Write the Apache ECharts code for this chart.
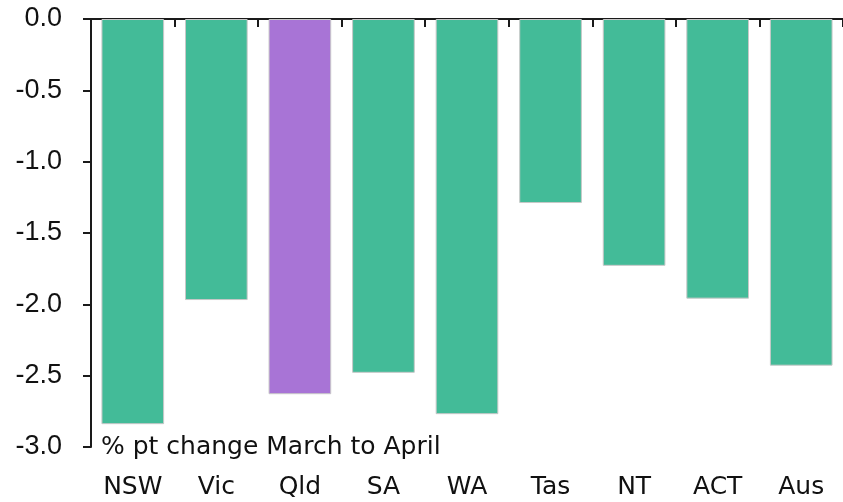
<!DOCTYPE html>
<html>
<head>
<meta charset="utf-8">
<script src="https://cdn.jsdelivr.net/npm/echarts@6/dist/echarts.min.js"></script>
<style>
html,body{margin:0;padding:0;background:#fff}
#main{width:843px;height:502px}
</style>
</head>
<body>
<div id="main"></div>
<script>
var categories = ['NSW', 'Vic', 'Qld', 'SA', 'WA', 'Tas', 'NT', 'ACT', 'Aus'];
var values = [-2.84, -1.97, -2.63, -2.48, -2.77, -1.29, -1.73, -1.96, -2.43];
var highlight = 'Qld';
var yTicks = [0, -0.5, -1.0, -1.5, -2.0, -2.5, -3.0];

var green = '#43bb98';
var purple = '#a874d6';
var axisColor = '#1a1a1a';

var myChart = echarts.init(document.getElementById('main'));
myChart.setOption({
    animation: false,
    grid: {left: 91, right: -4, top: 19, bottom: 55},
    xAxis: [
        {
            // line + ticks along the zero line at the top
            type: 'category',
            data: categories,
            position: 'top',
            axisLine: {show: true, onZero: false, lineStyle: {color: axisColor, width: 2}},
            axisTick: {show: true, interval: 0, inside: true, length: 8, lineStyle: {color: axisColor, width: 2}},
            axisLabel: {show: false}
        },
        {
            // category names under the plot
            type: 'category',
            data: categories,
            position: 'bottom',
            axisLine: {show: false},
            axisTick: {show: false},
            axisLabel: {
                color: '#111',
                fontSize: 25,
                fontFamily: 'DejaVu Sans',
                margin: 28
            }
        }
    ],
    yAxis: {
        type: 'value',
        min: yTicks[yTicks.length - 1],
        max: yTicks[0],
        interval: 0.5,
        axisLine: {show: true, lineStyle: {color: axisColor, width: 2}},
        axisTick: {show: true, length: 8, lineStyle: {color: axisColor, width: 2}},
        splitLine: {show: false},
        axisLabel: {
            color: '#111',
            fontSize: 27,
            fontFamily: 'Liberation Sans',
            margin: 29,
            formatter: function (v) { return v.toFixed(1); }
        }
    },
    graphic: [{
        type: 'text',
        left: 101,
        top: 435,
        style: {
            text: '% pt change March to April',
            fill: '#111',
            font: '25px "DejaVu Sans"'
        }
    }],
    series: [{
        type: 'bar',
        xAxisIndex: 0,
        barCategoryGap: '25%',
        data: values.map(function (v, i) {
            return {
                value: v,
                itemStyle: {color: categories[i] === highlight ? purple : green}
            };
        }),
        itemStyle: {borderColor: '#c8c8c8', borderWidth: 1}
    }]
});
</script>
</body>
</html>
